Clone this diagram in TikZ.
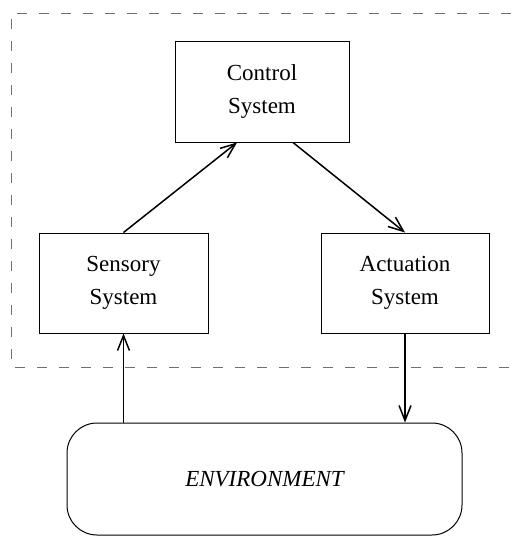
\documentclass[tikz,border=0pt]{standalone}
\usepackage{fontspec}
\setmainfont{Liberation Serif}
\usetikzlibrary{arrows.meta}
\definecolor{boundary}{HTML}{707070}

\begin{document}
\begin{tikzpicture} [x=0.5pt,y=-0.5pt,
  sysbox/.style= {shape=rectangle,draw,line width=0.5pt,align=center,inner sep=0,
    font=\fontsize{11.5}{16.5}\selectfont},
  envbox/.style= {sysbox,rounded corners=15pt,font=\fontsize{11.5}{16.5}\selectfont\itshape},
  link/.style= {line width=0.75pt,-{Straight Barb[length=7.5pt,width=6pt,line width=0.75pt]}},
  limit/.style= {boundary,line width=0.5pt,dash pattern=on 5pt off 6pt}]
  \useasboundingbox (0,0) rectangle (511,536);
  % boundary of the system
  \draw[limit] (511,13) -- (11,13) -- (11,367) -- (511,367);
  % Boxes
  {\node[sysbox] [minimum width=87pt,minimum height=50.5pt] (control) at (262,91.5) {Control\\System};}
  {\node[sysbox] [minimum width=84.5pt,minimum height=50pt] (sensory) at (123.5,283) {Sensory\\System};}
  {\node[sysbox] [minimum width=84pt,minimum height=50pt] (actuation) at (405,283) {Actuation\\System};}
  {\node[envbox] [minimum width=197.5pt,minimum height=56pt] (env) at (264.5,479) {ENVIRONMENT};}
  % Arrows
  \draw[link] (sensory.north) -- ([xshift=-12.5pt]control.south);
  \draw[link] ([xshift=15.5pt]control.south) -- (actuation.north);
  \draw[link] (sensory.south |- env.north) -- (sensory.south);
  \draw[link] (actuation.south) -- (actuation.south |- env.north);
\end{tikzpicture}
\end{document}
